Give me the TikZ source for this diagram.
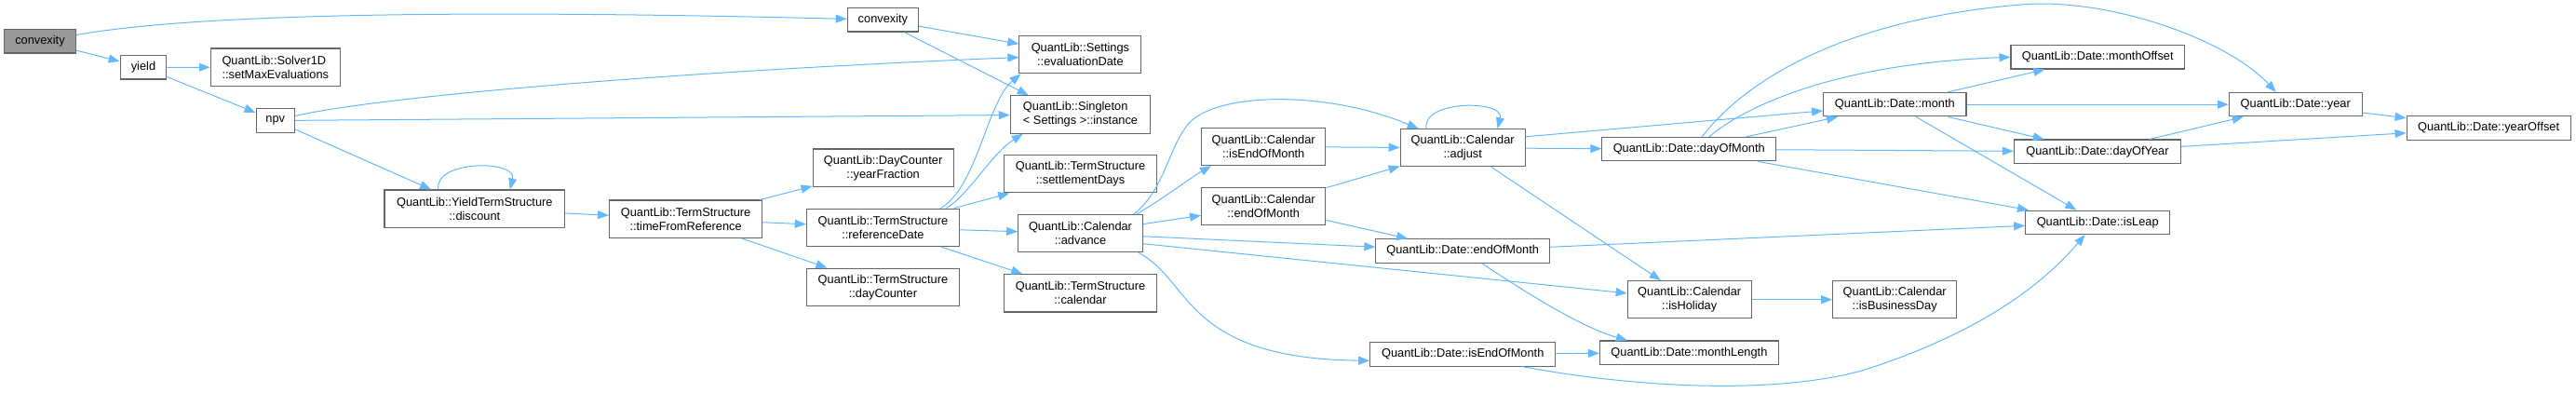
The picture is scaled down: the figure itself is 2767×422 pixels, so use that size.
\documentclass[tikz,border=0pt]{standalone}
\usepackage{fontspec}
\setmainfont{Liberation Sans}
\usetikzlibrary{arrows.meta,calc}
\definecolor{edgeblue}{HTML}{63B8FF}
\definecolor{boxgray}{HTML}{666666}
\definecolor{focusgray}{HTML}{999999}
\begin{document}
\begin{tikzpicture}[x=1pt,y=-1pt,
  fn/.style={draw=boxgray, fill=white, line width=1.1pt, text=black,
    font=\fontsize{12.8}{15}\selectfont, inner xsep=0pt, inner ysep=0pt,
    minimum height=25.5pt, align=center},
  tl/.style={minimum height=40.3pt},
  focus/.style={fill=focusgray},
  e/.style={draw=edgeblue, line width=1pt, -{Triangle[length=12pt,width=9pt]}}]
\useasboundingbox (0,0) rectangle (2767,422);

% nodes
\node[fn,focus,minimum width=77pt] (cvA) at (43,44.3) {convexity};
\node[fn,minimum width=49.6pt] (yld) at (154,72.3) {yield};
\node[fn,tl,align=left,minimum width=139pt] (smx) at (295.8,72.2) {QuantLib::Solver1D\\::setMaxEvaluations};
\node[fn,minimum width=41.5pt] (npv) at (295.8,129.5) {npv};
\node[fn,tl,minimum width=193.7pt] (dsc) at (509.8,224.2) {QuantLib::YieldTermStructure\\::discount};
\node[fn,minimum width=76.3pt] (cvB) at (948.4,21.3) {convexity};
\node[fn,tl,minimum width=131pt] (evd) at (1160.4,58.8) {QuantLib::Settings\\::evaluationDate};
\node[fn,tl,align=left,minimum width=150.4pt] (ins) at (1160.5,123) {QuantLib::Singleton\\< Settings >::instance};
\node[fn,tl,minimum width=151pt] (yfr) at (948.6,180.2) {QuantLib::DayCounter\\::yearFraction};
\node[fn,tl,minimum width=164pt] (tfr) at (736.6,235.2) {QuantLib::TermStructure\\::timeFromReference};
\node[fn,tl,minimum width=164pt] (rfd) at (948.4,244.3) {QuantLib::TermStructure\\::referenceDate};
\node[fn,tl,minimum width=164pt] (dcn) at (948.4,308.3) {QuantLib::TermStructure\\::dayCounter};
\node[fn,tl,minimum width=164pt] (sdy) at (1160.5,186.8) {QuantLib::TermStructure\\::settlementDays};
\node[fn,tl,minimum width=133.5pt] (adv) at (1160.5,250.7) {QuantLib::Calendar\\::advance};
\node[fn,tl,minimum width=164pt] (cal) at (1160.5,314.8) {QuantLib::TermStructure\\::calendar};
\node[fn,tl,minimum width=133.3pt] (ceom) at (1357.2,157.5) {QuantLib::Calendar\\::isEndOfMonth};
\node[fn,tl,minimum width=133.3pt] (cend) at (1357.2,221.3) {QuantLib::Calendar\\::endOfMonth};
\node[fn,tl,minimum width=134pt] (adj) at (1571.2,158.8) {QuantLib::Calendar\\::adjust};
\node[fn,minimum width=186.6pt] (dom) at (1814.2,160.2) {QuantLib::Date::dayOfMonth};
\node[fn,minimum width=186.6pt] (deom) at (1571.2,269.5) {QuantLib::Date::endOfMonth};
\node[fn,tl,minimum width=133pt] (hol) at (1814.7,321.7) {QuantLib::Calendar\\::isHoliday};
\node[fn,tl,minimum width=133pt] (bus) at (2035.2,321.7) {QuantLib::Calendar\\::isBusinessDay};
\node[fn,minimum width=199pt] (disE) at (1571.2,380.3) {QuantLib::Date::isEndOfMonth};
\node[fn,minimum width=191.8pt] (mln) at (1814.4,378.7) {QuantLib::Date::monthLength};
\node[fn,minimum width=153.4pt] (mon) at (2035.3,112.2) {QuantLib::Date::month};
\node[fn,minimum width=186.4pt] (mof) at (2253.2,61.3) {QuantLib::Date::monthOffset};
\node[fn,minimum width=142.8pt] (yr) at (2465.7,112.2) {QuantLib::Date::year};
\node[fn,minimum width=176pt] (yof) at (2673.1,137.5) {QuantLib::Date::yearOffset};
\node[fn,minimum width=179pt] (doy) at (2252.9,162.8) {QuantLib::Date::dayOfYear};
\node[fn,minimum width=155pt] (lp) at (2253.2,238.8) {QuantLib::Date::isLeap};

% edges
\draw[e] (cvA) .. controls (250,8) and (650,14) .. (cvB);
\draw[e] (cvA) -- (yld);
\draw[e] (yld) -- (smx);
\draw[e] (yld) -- (npv);
\draw[e] (npv) .. controls (400,105) and (700,78) .. (evd);
\draw[e] (npv) -- (ins);
\draw[e] (npv) -- (dsc);
\draw[e] ($(dsc.north)+(-39,0)$) .. controls +(-5,-32) and +(8,-32) .. ($(dsc.north)+(38,0)$);
\draw[e] (dsc) -- (tfr);
\draw[e] (tfr) -- (yfr);
\draw[e] (tfr) -- (rfd);
\draw[e] (tfr) -- (dcn);
\draw[e] (cvB) -- (evd);
\draw[e] ($(cvB.south)+(23,0)$) -- ($(ins.north west)+(20,0)$);
\draw[e] ($(rfd.north)+(62,0)$) .. controls (1050,200) and (1060,110) .. ($(evd.south west)+(2,0)$);
\draw[e] ($(rfd.north)+(68,0)$) .. controls (1040,210) and (1065,165) .. ($(ins.south west)+(14,0)$);
\draw[e] (rfd) -- (sdy);
\draw[e] (rfd) -- (adv);
\draw[e] (rfd) -- (cal);
\draw[e] ($(adv.north east)+(-10,0)$) .. controls (1250,205) and (1255,160) .. (1275,135)
   .. controls (1300,100) and (1420,95) .. ($(adj.north west)+(20,0)$);
\draw[e] ($(adv.north east)+(-7,0)$) .. controls (1250,213) and (1280,190) .. ($(ceom.south west)+(11,0)$);
\draw[e] (adv) -- (cend);
\draw[e] (adv) -- (deom);
\draw[e] ($(adv.east)+(0,11)$) -- (hol);
\draw[e] ($(adv.south east)+(-5,0)$) .. controls (1280,300) and (1270,385) .. ($(disE.west)+(0,7)$);
\draw[e] (ceom) -- (adj);
\draw[e] (cend) -- (adj);
\draw[e] (cend) -- (deom);
\draw[e] ($(adj.north)+(-39.2,0)$) .. controls +(-5,-31) and +(8,-31) .. ($(adj.north)+(37.3,0)$);
\draw[e] (adj) -- (dom);
\draw[e] ($(adj.east)+(0,-12)$) -- (mon);
\draw[e] (adj) -- (hol);
\draw[e] (dom) -- (mon);
\draw[e] ($(dom.north)+(21.5,0)$) .. controls (1880,110) and (1980,68) .. (mof.west);
\draw[e] ($(dom.north)+(14,0)$) .. controls (1880,80) and (1990,20) .. (2171,5)
   .. controls (2260,-3) and (2390,40) .. ($(yr.north west)+(51,0)$);
\draw[e] (dom) -- (doy);
\draw[e] (dom) -- (lp);
\draw[e] (deom) -- (lp);
\draw[e] ($(deom.south)+(20.6,0)$) .. controls (1640,315) and (1700,352) .. ($(mln.north west)+(30,0)$);
\draw[e] (hol) -- (bus);
\draw[e] (disE) -- (mln);
\draw[e] ($(disE.south)+(63.6,0)$) .. controls (1750,415) and (1900,425) .. (2000,398)
   .. controls (2120,360) and (2190,310) .. ($(lp.south)+(-13.5,0)$);
\draw[e] (mon) -- (mof);
\draw[e] (mon) -- (yr);
\draw[e] (mon) -- (doy);
\draw[e] (mon) -- (lp);
\draw[e] (yr) -- (yof);
\draw[e] (doy) -- (yr);
\draw[e] (doy) -- (yof);
\end{tikzpicture}
\end{document}
